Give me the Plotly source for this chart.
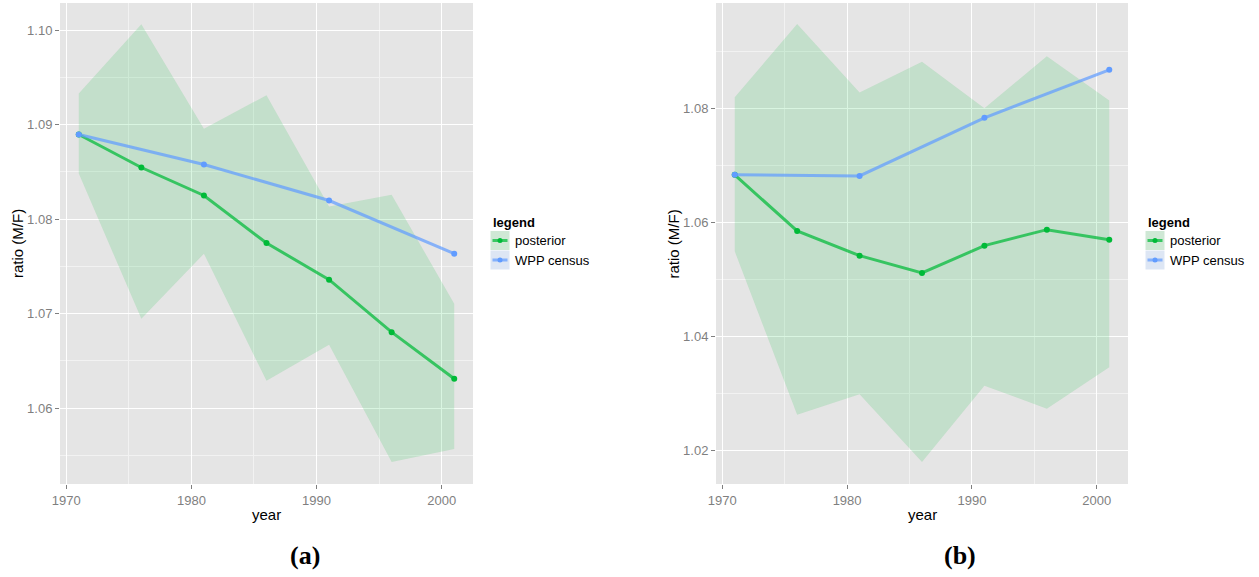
import plotly.graph_objects as go

years = [1971, 1976, 1981, 1986, 1991, 1996, 2001]
census_years = [1971, 1981, 1991, 2001]

# Panel (a)
a_post = [1.08894, 1.08545, 1.08249, 1.07746, 1.07358, 1.06803, 1.06309]
a_upper = [1.09328, 1.10060, 1.08954, 1.09310, 1.08133, 1.08257, 1.07103]
a_lower = [1.08481, 1.06944, 1.07633, 1.06288, 1.06669, 1.05429, 1.05566]
a_wpp = [1.08894, 1.08577, 1.08196, 1.07633]

# Panel (b)
b_post = [1.0684, 1.05854, 1.0542, 1.05116, 1.05596, 1.05877, 1.05701]
b_upper = [1.08206, 1.09489, 1.08287, 1.08826, 1.08012, 1.08924, 1.08146]
b_lower = [1.05496, 1.02626, 1.02984, 1.01794, 1.03135, 1.02731, 1.03459]
b_wpp = [1.0684, 1.06822, 1.07842, 1.08685]

GREEN = "#00BA38"
BLUE = "#619CFF"
GREEN_LINE = "rgba(0,186,56,0.72)"
BLUE_LINE = "rgba(97,156,255,0.72)"
RIBBON = "rgba(0,186,56,0.15)"

W, H = 1259, 577
fig = go.Figure()

def add_panel(xa, ya, post, upper, lower, wpp):
    fig.add_trace(go.Scatter(x=years, y=upper, mode="lines", line=dict(width=0),
                             xaxis=xa, yaxis=ya, showlegend=False, hoverinfo="skip"))
    fig.add_trace(go.Scatter(x=years, y=lower, mode="lines", line=dict(width=0),
                             fill="tonexty", fillcolor=RIBBON,
                             xaxis=xa, yaxis=ya, showlegend=False, hoverinfo="skip"))
    fig.add_trace(go.Scatter(x=years, y=post, mode="lines", line=dict(color=GREEN_LINE, width=3),
                             xaxis=xa, yaxis=ya, showlegend=False))
    fig.add_trace(go.Scatter(x=years, y=post, mode="markers", marker=dict(color=GREEN, size=6),
                             xaxis=xa, yaxis=ya, showlegend=False))
    fig.add_trace(go.Scatter(x=census_years, y=wpp, mode="lines", line=dict(color=BLUE_LINE, width=3),
                             xaxis=xa, yaxis=ya, showlegend=False))
    fig.add_trace(go.Scatter(x=census_years, y=wpp, mode="markers", marker=dict(color=BLUE, size=6),
                             xaxis=xa, yaxis=ya, showlegend=False))

add_panel("x", "y", a_post, a_upper, a_lower, a_wpp)
add_panel("x2", "y2", b_post, b_upper, b_lower, b_wpp)

def px(x):
    return x / W

def py(y):
    return 1 - y / H

tickfont = dict(family="Liberation Sans, Arial, sans-serif", size=13, color="#7F7F7F")
common_x = dict(range=[1969.5, 2002.5], tick0=1970, dtick=10, showgrid=True, gridcolor="white",
                gridwidth=1.3, zeroline=False, ticks="outside", ticklen=4, tickcolor="#7F7F7F",
                tickfont=tickfont, showline=False, automargin=False,
                minor=dict(tick0=1975, dtick=10, showgrid=True, gridcolor="#F2F2F2", gridwidth=0.6, ticks=""))
common_y = dict(showgrid=True, gridcolor="white", gridwidth=1.3, zeroline=False, ticks="outside",
                ticklen=4, tickcolor="#7F7F7F", tickfont=tickfont, showline=False, automargin=False)

y0, y1 = py(484), py(3)
fig.update_layout(
    width=W, height=H, margin=dict(l=0, r=0, t=0, b=0, pad=0),
    paper_bgcolor="white", plot_bgcolor="#E5E5E5",
    showlegend=False,
    xaxis=dict(domain=[px(60), px(473)], anchor="y", **common_x),
    yaxis=dict(domain=[y0, y1], anchor="x", range=[1.05196, 1.10286], tick0=1.06, dtick=0.01,
               tickformat=".2f",
               minor=dict(tick0=1.055, dtick=0.01, showgrid=True, gridcolor="#F2F2F2", gridwidth=0.6, ticks=""),
               **common_y),
    xaxis2=dict(domain=[px(716), px(1128)], anchor="y2", **common_x),
    yaxis2=dict(domain=[y0, y1], anchor="x2", range=[1.01408, 1.0986], tick0=1.02, dtick=0.02,
                tickformat=".2f",
                minor=dict(tick0=1.03, dtick=0.02, showgrid=True, gridcolor="#F2F2F2", gridwidth=0.6, ticks=""),
                **common_y),
)

anns = []
shapes = []
labfont = dict(family="Liberation Sans, Arial, sans-serif", size=15, color="black")

def panel_text(cx, ylab_x, legx, caption, capx):
    anns.append(dict(x=px(cx), y=py(514), xref="paper", yref="paper", text="year",
                     showarrow=False, font=labfont, xanchor="center", yanchor="middle"))
    anns.append(dict(x=px(ylab_x), y=py(244), xref="paper", yref="paper", text="ratio (M/F)",
                     showarrow=False, font=labfont, textangle=-90, xanchor="center", yanchor="middle"))
    anns.append(dict(x=px(capx), y=py(555), xref="paper", yref="paper", text="<b>" + caption + "</b>",
                     showarrow=False, font=dict(family="Liberation Serif, serif", size=26, color="black"),
                     xanchor="center", yanchor="middle"))
    # legend
    anns.append(dict(x=px(legx), y=py(222.5), xref="paper", yref="paper", text="<b>legend</b>",
                     showarrow=False, font=dict(family="Liberation Sans, Arial, sans-serif", size=13, color="black"),
                     xanchor="left", yanchor="middle"))
    items = [("posterior", "#CFE8D5", GREEN_LINE, GREEN, 231, 250),
             ("WPP census", "#DDE6F4", BLUE_LINE, BLUE, 250.5, 269.5)]
    for name, bg, lc, mc, ya, yb in items:
        kx0, kx1 = legx, legx + 19
        shapes.append(dict(type="rect", xref="paper", yref="paper", x0=px(kx0), x1=px(kx1),
                           y0=py(yb), y1=py(ya), fillcolor=bg, line=dict(width=0), layer="above"))
        cy = (ya + yb) / 2
        shapes.append(dict(type="line", xref="paper", yref="paper", x0=px(kx0 + 2), x1=px(kx1 - 2),
                           y0=py(cy), y1=py(cy), line=dict(color=lc, width=3), layer="above"))
        shapes.append(dict(type="circle", xref="paper", yref="paper", x0=px(kx0 + 7), x1=px(kx0 + 12),
                           y0=py(cy + 2.5), y1=py(cy - 2.5), fillcolor=mc, line=dict(width=0), layer="above"))
        anns.append(dict(x=px(kx1 + 3), y=py(cy), xref="paper", yref="paper", text=name,
                         showarrow=False, font=dict(family="Liberation Sans, Arial, sans-serif", size=13, color="black"),
                         xanchor="left", yanchor="middle"))

panel_text(266.5, 17, 490.5, "(a)", 304.5)
panel_text(922, 672.5, 1145.5, "(b)", 959.5)

fig.update_layout(annotations=anns, shapes=shapes)
fig.write_html("out.html", config={"displayModeBar": False},
               post_script="document.body.style.margin='0';document.body.style.padding='0';document.body.style.overflow='hidden';")
